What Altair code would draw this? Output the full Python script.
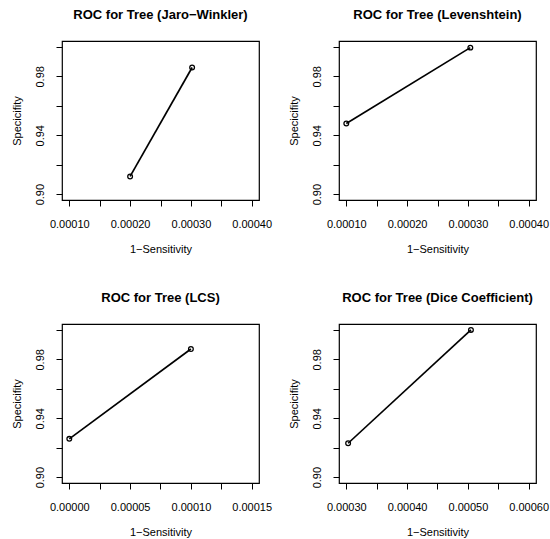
import altair as alt
import pandas as pd

titles = ["ROC for Tree (Jaro\u2212Winkler)", "ROC for Tree (Levenshtein)",
          "ROC for Tree (LCS)", "ROC for Tree (Dice Coefficient)"]

x1 = [0.000200, 0.000302]
y1 = [0.912, 0.986]
x2 = [0.000100, 0.000304]
y2 = [0.948, 0.9995]
x3 = [0.000000, 0.000100]
y3 = [0.926, 0.987]
x4 = [0.000303, 0.000505]
y4 = [0.923, 1.000]

xticks1 = [0.0001, 0.00015, 0.0002, 0.00025, 0.0003, 0.00035, 0.0004]
xlabels1 = ["0.00010", "0.00020", "0.00030", "0.00040"]
xticks3 = [0.0, 0.000025, 0.00005, 0.000075, 0.0001, 0.000125, 0.00015]
xlabels3 = ["0.00000", "0.00005", "0.00010", "0.00015"]
xticks4 = [0.0003, 0.00035, 0.0004, 0.00045, 0.0005, 0.00055, 0.0006]
xlabels4 = ["0.00030", "0.00040", "0.00050", "0.00060"]
yticks = [0.90, 0.92, 0.94, 0.96, 0.98, 1.00]
ylabels = ["0.90", "0.94", "0.98"]

FONT = "Liberation Sans"
W, H = 197, 159


def panel(title, xs, ys, xticks, xlabels, xdom):
    df = pd.DataFrame({"x": xs, "y": ys})
    xenc = alt.X("x:Q", title="1\u2212Sensitivity",
                 scale=alt.Scale(domain=xdom, nice=False, zero=False),
                 axis=alt.Axis(values=xticks, format=".5f",
                               labelExpr="indexof(" + str(xlabels) + ", datum.label) >= 0 ? datum.label : ''",
                               labelOverlap=False, labelFlush=False))
    yenc = alt.Y("y:Q", title="Specicifity",
                 scale=alt.Scale(domain=[0.896, 1.004], nice=False, zero=False),
                 axis=alt.Axis(values=yticks, format=".2f",
                               labelExpr="indexof(" + str(ylabels) + ", datum.label) >= 0 ? datum.label : ''",
                               labelOverlap=False, labelAngle=-90,
                               labelAlign="center", labelBaseline="bottom"))
    base = alt.Chart(df).encode(x=xenc, y=yenc)
    line = base.mark_line(color="black", strokeWidth=1.7)
    pts = base.mark_point(shape="circle", filled=False, color="black",
                          size=22, strokeWidth=1.3, opacity=1)
    return alt.layer(line, pts).properties(
        width=W, height=H,
        title=alt.TitleParams(title, fontSize=13, fontWeight="bold", font=FONT,
                              color="black", offset=19, anchor="middle"))


p1 = panel(titles[0], x1, y1, xticks1, xlabels1, [0.000088, 0.000412])
p2 = panel(titles[1], x2, y2, xticks1, xlabels1, [0.000088, 0.000412])
p3 = panel(titles[2], x3, y3, xticks3, xlabels3, [-0.000006, 0.000156])
p4 = panel(titles[3], x4, y4, xticks4, xlabels4, [0.000288, 0.000612])

chart = alt.concat(p1, p2, p3, p4, columns=2, spacing={"column": 80, "row": 124},
                   bounds="flush").properties(
    padding={"left": 10, "top": 8, "right": 0, "bottom": 0},
    background="white",
).configure_view(
    stroke="black", strokeWidth=1.2
).configure_axis(
    grid=False, domain=False, ticks=True, tickColor="black", tickSize=6,
    tickWidth=1, labelColor="black", labelFont=FONT, labelFontSize=11,
    labelPadding=3, titleFont=FONT, titleFontSize=11, titleColor="black",
    titleFontWeight="normal"
).configure_axisX(
    labelPadding=12, titlePadding=14
).configure_axisY(
    labelPadding=11, titlePadding=12
)

chart.save("out.html", embed_options={"renderer": "svg", "actions": False})
